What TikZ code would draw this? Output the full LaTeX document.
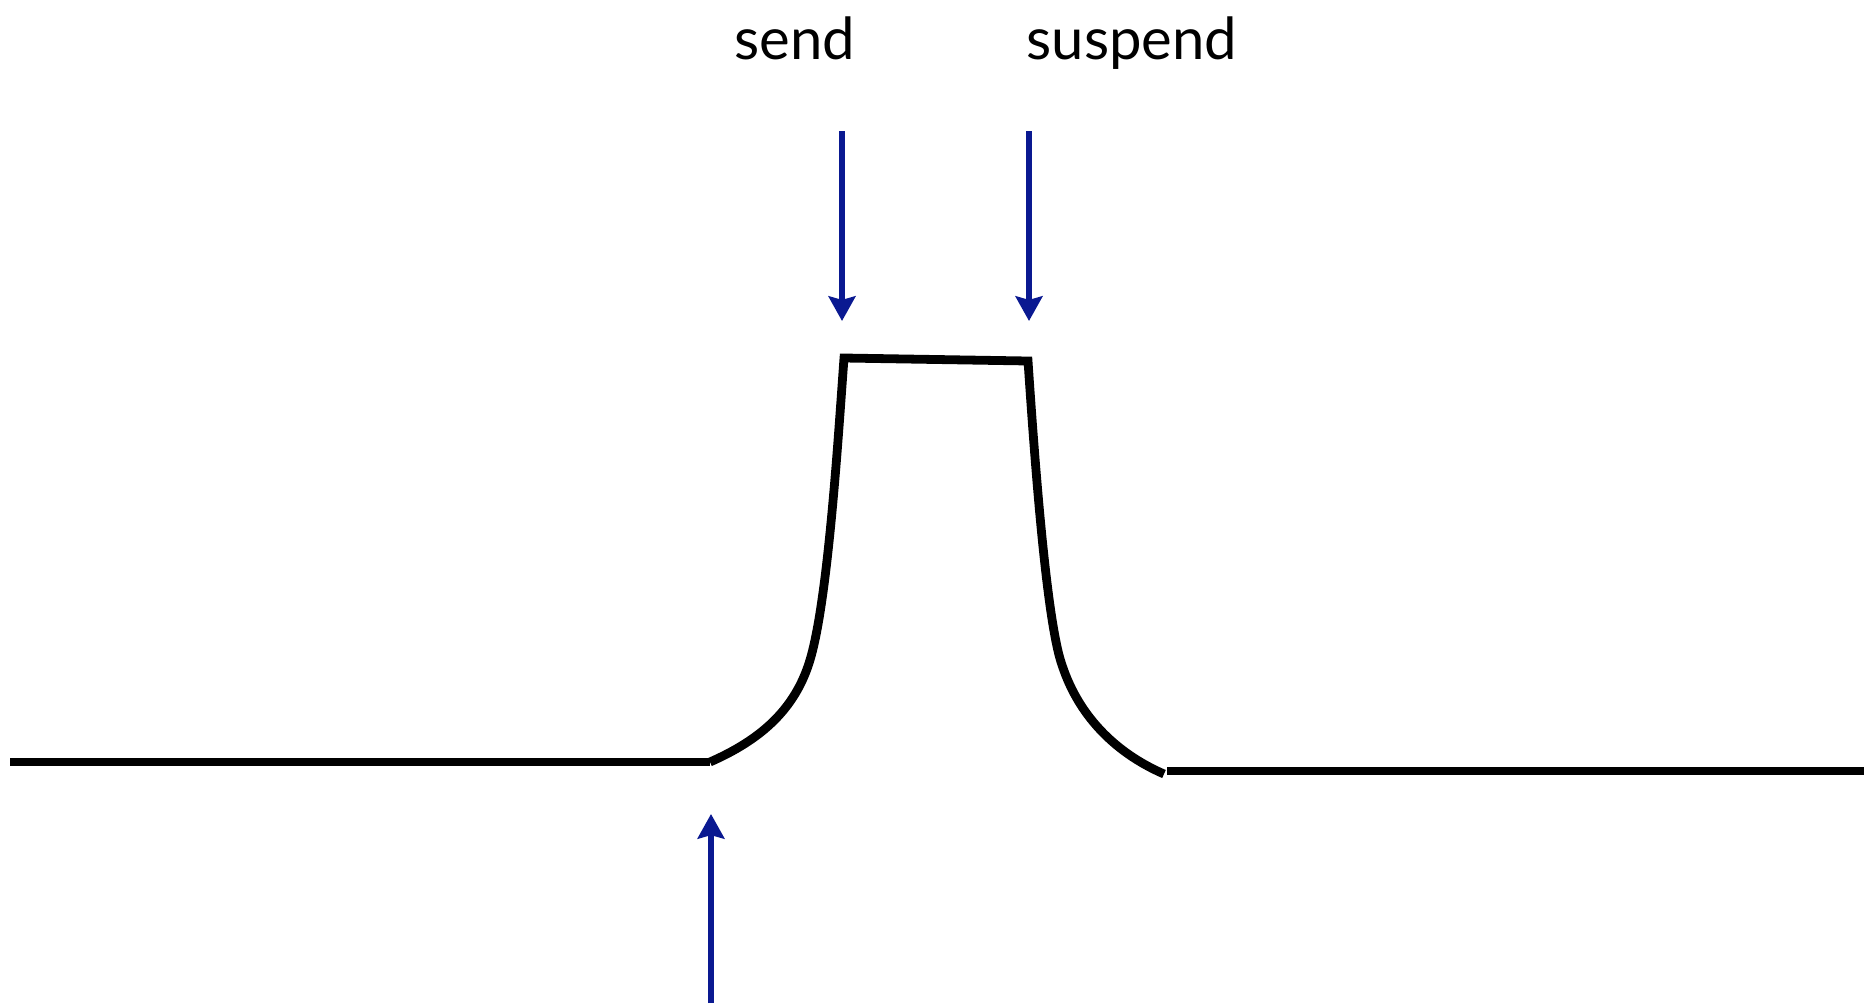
\documentclass[tikz,border=0pt]{standalone}
\usepackage{fontspec}
\setmainfont{Lato}
\usetikzlibrary{arrows.meta}
\definecolor{arrowblue}{RGB}{10,25,145}
\begin{document}
\begin{tikzpicture}[
    x=0.01cm,
    y=-0.01cm,
    curve/.style={line width=2.5pt, black},
    marker/.style={line width=1.7pt, arrowblue, -{Stealth[length=7pt, width=7.6pt, inset=1pt]}},
    every node/.style={font=\fontsize{16.5pt}{20pt}\selectfont, inner sep=0pt, anchor=base}
]
    \useasboundingbox (0,0) rectangle (1864,1006);

    % Define Coordinates
    \coordinate (L0) at (10,762);   % Left start
    \coordinate (L1) at (710,762);  % Left foot
    \coordinate (TL) at (844,358);  % Top Left
    \coordinate (TR) at (1028,361); % Top Right
    \coordinate (R1) at (1164,774); % Right foot
    \coordinate (R2) at (1167,771); % Right line start
    \coordinate (R3) at (1864,771); % Right end

    % Labels
    \node (send) at (795,59) {send};
    \node (suspend) at (1132,59) {suspend};

    % Draw the pulse
    \draw[curve] (L0) -- (L1);
    \draw[curve] (L1) .. controls (760,740) and (795,710) .. (810,660)
        .. controls (828,600) and (838,440) .. (TL) -- (TR)
        .. controls (1034,450) and (1046,620) .. (1062,665)
        .. controls (1080,720) and (1120,755) .. (R1);
    \draw[curve] (R2) -- (R3);

    % Arrows
    \coordinate (sendtop) at (842,131);
    \coordinate (sendtip) at (842,321);
    \coordinate (susptop) at (1029,131);
    \coordinate (susptip) at (1029,321);
    \coordinate (risebot) at (711,1003);
    \coordinate (risetip) at (711,814);
    \draw[marker] (sendtop) -- (sendtip);
    \draw[marker] (susptop) -- (susptip);
    \draw[marker] (risebot) -- (risetip);

\end{tikzpicture}
\end{document}
